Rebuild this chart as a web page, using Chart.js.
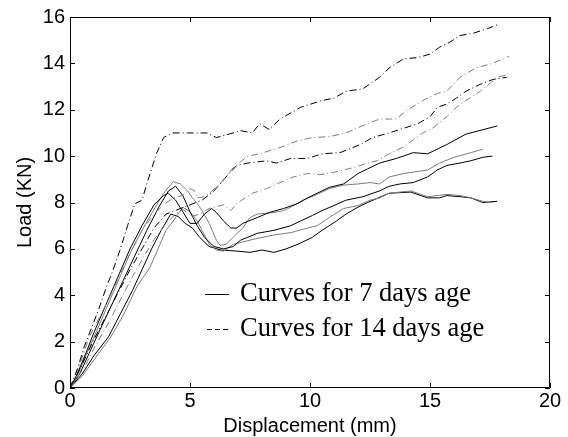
<!DOCTYPE html>
<html><head><meta charset="utf-8">
<script src="https://cdn.jsdelivr.net/npm/chart.js@4"></script>
<style>html,body{margin:0;padding:0;background:#fff}</style>
</head><body>
<canvas id="c" width="568" height="437"></canvas>
<script>
// ---- data (displacement mm, load kN) ----
const xTicks = [0, 5, 10, 15, 20];
const yTicks = [0, 2, 4, 6, 8, 10, 12, 14, 16];
const xTitle = 'Displacement (mm)';
const yTitle = 'Load (KN)';
const legendLabels = ['Curves for 7 days age', 'Curves for 14 days age'];

// 7 days age (solid)
const day7_a = [[0,0],[0.3,0.6],[0.7,1.6],[1.0,2.4],[1.5,3.6],[2,4.8],[2.5,6.0],[3,7.0],[3.5,7.9],[3.9,8.3],[4.1,8.4],[4.4,8.1],[4.7,7.6],[5.0,7.1],[5.3,7.1],[5.6,7.5],[5.9,7.74],[6.1,7.57],[6.4,7.2],[6.7,6.9],[6.95,6.9],[7.2,7.1],[7.8,7.35],[8.3,7.57],[8.9,7.74],[9.5,7.96],[9.9,8.2],[10.3,8.4],[10.8,8.65],[11.4,8.8],[12,9.25],[12.4,9.45],[12.9,9.7],[13.6,9.9],[14.3,10.15],[14.9,10.1],[15.7,10.5],[16.5,10.95],[17.8,11.3]];
const day7_b = [[0,0],[0.3,0.5],[0.7,1.5],[1,2.2],[1.5,3.4],[2,4.6],[2.5,5.8],[3,6.8],[3.5,7.7],[3.9,8.4],[4.3,8.9],[4.6,8.8],[4.9,8.5],[5.1,8.2],[5.3,7.96],[5.5,7.65],[5.8,7.1],[6.1,6.37],[6.25,6.15],[6.5,6.2],[6.8,6.5],[7.2,6.9],[7.5,7.35],[7.8,7.5],[8.5,7.57],[8.9,7.65],[9.2,7.8],[9.7,8.1],[10.3,8.35],[10.8,8.6],[11.4,8.75],[12,8.8],[12.5,8.86],[12.9,8.8],[13.3,9.1],[13.9,9.25],[14.9,9.4],[15.4,9.7],[16,9.95],[16.7,10.15],[17.2,10.3]];
const day7_c = [[0,0],[0.4,0.6],[0.8,1.5],[1.2,2.4],[1.7,3.5],[2.2,4.6],[2.7,5.7],[3.2,6.8],[3.7,7.8],[4.1,8.5],[4.4,8.7],[4.7,8.3],[5.0,7.6],[5.3,7.0],[5.6,6.5],[6.0,6.1],[6.4,6.0],[6.8,6.1],[7.1,6.37],[7.8,6.67],[8.5,6.8],[9.2,7.0],[9.6,7.2],[10.1,7.44],[10.5,7.65],[11,7.87],[11.5,8.1],[12.2,8.25],[12.9,8.5],[13.3,8.7],[13.75,8.8],[14.3,8.86],[14.9,9.1],[15.3,9.4],[15.7,9.6],[16.25,9.7],[16.7,9.8],[17.2,9.95],[17.6,10.0]];
const day7_d = [[0,0],[0.5,0.5],[1.2,1.5],[1.7,2.2],[2.2,3.1],[2.8,4.4],[3.33,5.2],[3.75,6.2],[4.0,6.8],[4.3,7.2],[4.7,7.8],[5.0,7.6],[5.3,7.2],[5.6,6.6],[5.8,6.2],[6.1,5.95],[6.4,5.9],[6.8,6.2],[7.2,6.3],[7.8,6.45],[8.5,6.6],[9.2,6.7],[9.9,6.9],[10.3,7.0],[10.8,7.35],[11.4,7.74],[12,7.87],[12.5,8.1],[12.9,8.2],[13.3,8.4],[14.2,8.5],[14.9,8.25],[15.7,8.35],[16.25,8.3],[16.7,8.2],[17.2,8.05],[17.6,8.0]];
const day7_e = [[0,0],[0.5,0.6],[1,1.4],[1.6,2.2],[2.1,3.2],[2.6,4.2],[3,5.1],[3.4,6.0],[3.8,6.8],[4.2,7.5],[4.5,7.4],[4.8,7.1],[5.1,6.9],[5.4,6.5],[5.8,6.1],[6.3,5.95],[7,5.9],[7.5,5.85],[8,5.95],[8.5,5.85],[9,6.0],[9.5,6.2],[10.1,6.5],[10.5,6.8],[11.1,7.2],[11.5,7.5],[12,7.8],[12.4,8.0],[13.3,8.4],[14.2,8.45],[14.9,8.2],[15.4,8.2],[15.7,8.3],[16.25,8.25],[16.7,8.2],[17.2,8.0],[17.8,8.05]];

// 14 days age (dash-dot)
const day14_a = [[0,0],[0.3,0.8],[0.6,1.8],[0.9,2.6],[1.2,3.4],[1.5,4.3],[1.8,5.1],[2.1,6.0],[2.4,7.0],[2.7,7.95],[3.0,8.1],[3.2,8.8],[3.6,10.1],[3.9,10.8],[4.25,11.0],[4.9,11.0],[5.7,11.0],[6.1,10.8],[6.8,11.0],[7.1,11.1],[7.6,11.0],[7.9,11.4],[8.3,11.15],[8.75,11.6],[9.6,12.1],[10.5,12.4],[11,12.5],[11.5,12.8],[12.2,12.9],[12.9,13.4],[13.3,13.8],[13.9,14.2],[14.5,14.25],[15,14.4],[15.4,14.7],[15.8,14.9],[16.25,15.2],[16.8,15.3],[17.4,15.5],[17.9,15.7]];
const day14_b = [[0,0],[0.4,1.0],[0.8,2.2],[1.2,3.0],[1.6,3.8],[2,4.7],[2.5,5.8],[3,6.8],[3.5,7.5],[3.9,7.9],[4.3,8.2],[4.7,8.3],[5.0,8.6],[5.2,8.5],[5.3,8.2],[5.6,8.25],[5.8,8.4],[6.25,8.8],[6.8,9.5],[7.4,10.0],[7.9,10.1],[8.75,10.37],[9.5,10.67],[10.1,10.8],[10.8,10.84],[11.5,11.0],[12.4,11.4],[12.9,11.6],[13.6,11.6],[14,11.95],[14.7,12.4],[15.3,12.7],[15.7,12.8],[16.25,13.4],[16.9,13.8],[17.6,14.0],[18.3,14.3]];
const day14_c = [[0,0],[0.5,1.0],[1,2.1],[1.5,3.1],[2,4.1],[2.5,5.1],[3,6.0],[3.5,6.9],[4,7.5],[4.5,7.7],[5,7.9],[5.5,8.1],[6,8.5],[6.5,9.1],[6.95,9.6],[7.4,9.7],[8.2,9.8],[8.6,9.7],[9.2,9.9],[9.9,9.9],[10.5,10.1],[11.25,10.15],[12.1,10.5],[12.6,10.8],[13.3,11.0],[13.9,11.2],[14.5,11.4],[15,11.7],[15.3,12.1],[15.7,12.25],[16.1,12.5],[16.5,12.8],[17.1,13.1],[17.6,13.3],[18.2,13.4]];
const day14_d = [[0,0],[0.6,0.9],[1.1,1.9],[1.6,2.8],[2.1,3.8],[2.6,4.8],[3.1,5.7],[3.5,6.4],[4,7.1],[4.4,7.5],[4.7,7.7],[5.1,7.4],[5.4,7.5],[5.8,7.74],[6.4,7.9],[6.7,7.65],[6.95,7.96],[7.6,8.4],[8.2,8.6],[8.75,8.86],[9.3,9.1],[9.9,9.25],[10.4,9.2],[11,9.3],[11.8,9.5],[12.4,9.7],[12.8,9.8],[13.3,10.1],[13.9,10.4],[14.3,10.7],[14.7,11.0],[15.1,11.2],[15.7,11.7],[16.1,12.1],[16.5,12.4],[17.1,12.8],[17.8,13.4],[18.2,13.5]];

const BLACK = '#000000', GRAY = '#7c7c7c';
const DASHDOT = [7, 3, 1, 3];

function toPts(arr){ return arr.map(p => ({x: p[0], y: p[1]})); }
function ds(arr, color, dash){
  return {data: toPts(arr), borderColor: color, borderWidth: 1, borderDash: dash || [],
          pointRadius: 0, tension: 0, fill: false};
}

const datasets = [
  ds(day14_a, BLACK, DASHDOT), ds(day14_b, GRAY, DASHDOT), ds(day14_c, BLACK, DASHDOT), ds(day14_d, GRAY, DASHDOT),
  ds(day7_a, BLACK), ds(day7_b, GRAY), ds(day7_c, BLACK), ds(day7_d, GRAY), ds(day7_e, BLACK)
];

const SANS = '"Liberation Sans", Arial, sans-serif';
const SERIF = '"Liberation Serif", "Times New Roman", serif';

const framePlugin = {
  id: 'frame',
  afterDraw(chart){
    const {ctx, chartArea: a, scales} = chart;
    ctx.save();
    ctx.strokeStyle = '#000'; ctx.lineWidth = 1;
    ctx.beginPath();
    ctx.rect(a.left + 0.5, a.top + 0.5, a.right - a.left - 1, a.bottom - a.top - 1);
    ctx.stroke();
    const tl = 5;
    ctx.beginPath();
    xTicks.forEach(v => {
      const px = Math.round(scales.x.getPixelForValue(v)) + 0.5;
      ctx.moveTo(px, a.bottom); ctx.lineTo(px, a.bottom - tl);
      ctx.moveTo(px, a.top); ctx.lineTo(px, a.top + tl);
    });
    yTicks.forEach(v => {
      const py = Math.round(scales.y.getPixelForValue(v)) + 0.5;
      ctx.moveTo(a.left, py); ctx.lineTo(a.left + tl, py);
      ctx.moveTo(a.right, py); ctx.lineTo(a.right - tl, py);
    });
    ctx.stroke();
    // legend
    const lx = a.left + 135, ly1 = a.top + 277, ly2 = a.top + 312;
    ctx.beginPath();
    ctx.moveTo(lx, ly1 + 0.5); ctx.lineTo(lx + 24, ly1 + 0.5);
    ctx.stroke();
    ctx.setLineDash([5, 3]);
    ctx.beginPath();
    ctx.moveTo(lx + 2, ly2 + 0.5); ctx.lineTo(lx + 25, ly2 + 0.5);
    ctx.stroke();
    ctx.setLineDash([]);
    ctx.fillStyle = '#000';
    ctx.font = '26.5px ' + SERIF;
    ctx.textBaseline = 'middle'; ctx.textAlign = 'left';
    ctx.fillText(legendLabels[0], lx + 35, ly1);
    ctx.fillText(legendLabels[1], lx + 35, ly2);
    ctx.restore();
  }
};

new Chart(document.getElementById('c'), {
  type: 'line',
  data: {datasets},
  options: {
    responsive: false, animation: false, devicePixelRatio: 1,
    layout: {padding: {left: 0, top: 16, right: 18, bottom: 0}},
    plugins: {legend: {display: false}, tooltip: {enabled: false}},
    scales: {
      x: {
        type: 'linear', min: 0, max: 20,
        afterBuildTicks: s => { s.ticks = xTicks.map(v => ({value: v})); },
        afterFit: s => { s.height = 49; },
        grid: {display: false, drawTicks: false},
        border: {display: false},
        ticks: {color: '#000', font: {family: SANS, size: 20, lineHeight: 1.2}, padding: 1, maxRotation: 0, autoSkip: false},
        title: {display: true, text: xTitle, color: '#000', font: {family: SANS, size: 20, lineHeight: 1.0}, padding: {top: 0, bottom: 1}}
      },
      y: {
        type: 'linear', min: 0, max: 16,
        afterBuildTicks: s => { s.ticks = yTicks.map(v => ({value: v})); },
        afterFit: s => { s.width = 70; },
        grid: {display: false, drawTicks: false},
        border: {display: false},
        ticks: {color: '#000', font: {family: SANS, size: 20}, padding: 5, autoSkip: false},
        title: {display: true, text: yTitle, color: '#000', font: {family: SANS, size: 20, lineHeight: 1.2}, padding: {top: 13, bottom: 0}}
      }
    }
  },
  plugins: [framePlugin]
});
</script>
</body></html>
